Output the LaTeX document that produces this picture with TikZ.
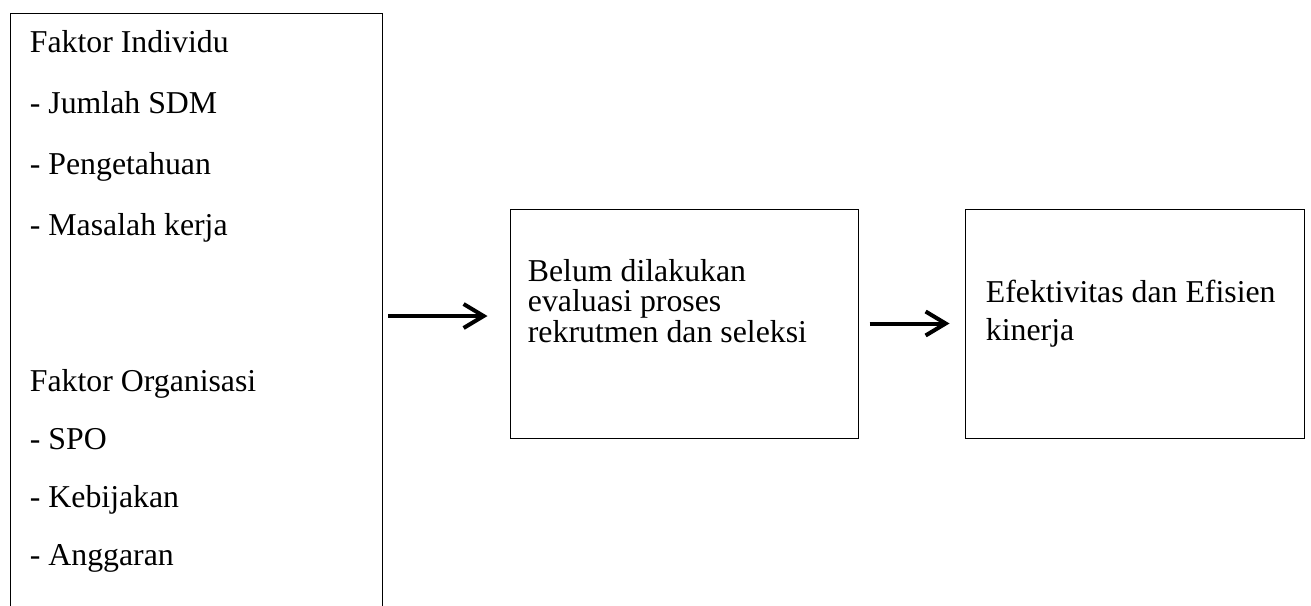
\documentclass[tikz,border=0pt]{standalone}
\usepackage{fontspec}
\setmainfont{Liberation Serif}
\usetikzlibrary{positioning}
\usetikzlibrary{arrows.meta}

\begin{document}
\begin{tikzpicture} [x=.5pt, y=-.5pt,
  frame/.style={draw, line width=.5pt, inner sep=0pt},
  words/.style={inner sep=0pt, align=left, anchor=north west},
  flow/.style={line width=2pt, -{Straight Barb[length=10pt, width=12pt]}}]
\useasboundingbox (0,0) rectangle (1311,605);
\clip (0,0) rectangle (1311,605);

% left box, runs past the lower edge
\node[frame, anchor=north west, minimum width=186pt, minimum height=330pt] (faktor) at (10,13) {};
\node[words, font=\fontsize{15.9}{30.5}\selectfont, below right=8.65pt and 9.75pt of faktor.north west] (faktorText) {Faktor Individu\\- Jumlah SDM\\- Pengetahuan\\- Masalah kerja\\[47.5pt]Faktor Organisasi\\[-1.5pt]- SPO\\[-1.5pt]- Kebijakan\\[-1.5pt]- Anggaran};

\node[frame, minimum width=174pt, minimum height=114.5pt] (evaluasi) at (684,323.5) {};
\node[words, font=\fontsize{15.9}{15.25}\selectfont, below right=25.1pt and 9pt of evaluasi.north west] (evaluasiText) {Belum dilakukan\\evaluasi proses\\rekrutmen dan seleksi};

\node[frame, minimum width=169.5pt, minimum height=114.5pt] (kinerja) at (1134.5,323.5) {};
\node[words, font=\fontsize{15.9}{19}\selectfont, below right=35.5pt and 10.5pt of kinerja.north west] (kinerjaText) {Efektivitas dan Efisien\\kinerja};

\coordinate (start) at (388,316);
\draw[flow, shorten >=11pt] (start) -- (start -| evaluasi.west);
\draw[flow, shorten <=5.5pt, shorten >=7.5pt] (evaluasi) -- (kinerja);

\end{tikzpicture}
\end{document}
